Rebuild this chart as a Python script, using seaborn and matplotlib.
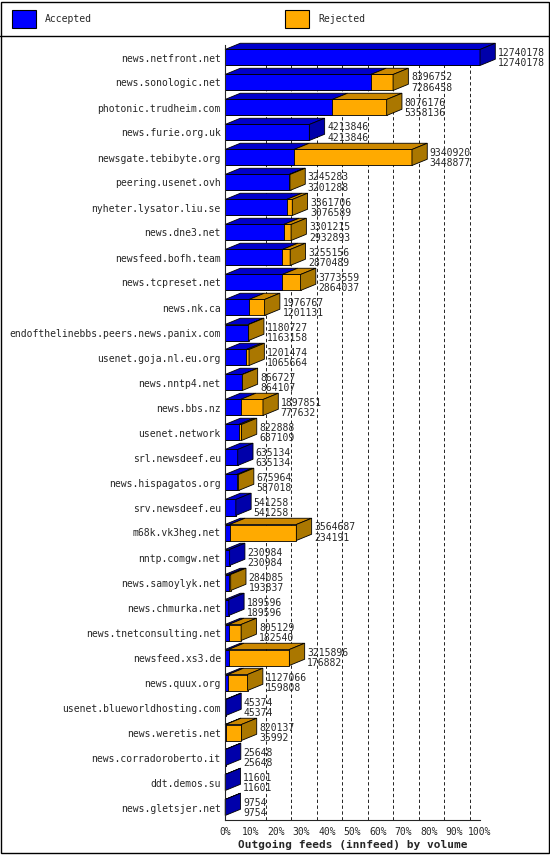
import matplotlib
matplotlib.use("Agg")
import matplotlib.pyplot as plt
import seaborn as sns
import pandas as pd
from matplotlib.patches import Polygon, Rectangle

names = ["news.netfront.net","news.sonologic.net","photonic.trudheim.com","news.furie.org.uk",
"newsgate.tebibyte.org","peering.usenet.ovh","nyheter.lysator.liu.se","news.dne3.net",
"newsfeed.bofh.team","news.tcpreset.net","news.nk.ca","endofthelinebbs.peers.news.panix.com",
"usenet.goja.nl.eu.org","news.nntp4.net","news.bbs.nz","usenet.network","srl.newsdeef.eu",
"news.hispagatos.org","srv.newsdeef.eu","m68k.vk3heg.net","nntp.comgw.net","news.samoylyk.net",
"news.chmurka.net","news.tnetconsulting.net","newsfeed.xs3.de","news.quux.org",
"usenet.blueworldhosting.com","news.weretis.net","news.corradoroberto.it","ddt.demos.su","news.gletsjer.net"]
offered = [12740178,8396752,8076176,4213846,9340920,3245283,3361706,3301215,3255156,3773559,
1976767,1180727,1201474,866727,1897851,822888,635134,675964,541258,3564687,230984,284085,
189596,805129,3215896,1127066,45374,820137,25648,11601,9754]
accepted = [12740178,7286458,5358136,4213846,3448877,3201288,3076589,2932893,2870489,2864037,
1201131,1163158,1065664,864107,777632,687109,635134,587018,541258,234191,230984,193837,
189596,182540,176882,159808,45374,35992,25648,11601,9754]

BLUE = "#0000ff"; ORANGE = "#ffaa00"
mx = max(offered)
df = pd.DataFrame({"name": names, "off": [v / mx for v in offered], "acc": [v / mx for v in accepted]})

sns.set_style("white")
plt.rcParams['font.family'] = ['DejaVu Sans Mono']
fig = plt.figure(figsize=(5.5, 8.55), dpi=100)
ax = fig.add_axes([225/550, 35/855, 255/550, 775/855])
H = 0.64
sns.barplot(data=df, y="name", x="off", orient="h", color=ORANGE, width=H, ax=ax,
            edgecolor="black", linewidth=0.6, saturation=1)
sns.barplot(data=df, y="name", x="acc", orient="h", color=BLUE, width=H, ax=ax,
            edgecolor="black", linewidth=0.6, saturation=1)
dx, dy = 0.06, 0.25
for i, (o, a) in enumerate(zip(df.off, df.acc)):
    top = i - H / 2
    # top faces
    for x0, x1, c in [(0, a, "#0000cc"), (a, o, "#cc8800")]:
        if x1 > x0:
            ax.add_patch(Polygon([(x0, top), (x1, top), (x1 + dx, top - dy), (x0 + dx, top - dy)],
                                 closed=True, fc=c, ec="black", lw=0.6, clip_on=False))
    sc = "#0000aa" if o <= a else "#aa7700"
    ax.add_patch(Polygon([(o, top), (o + dx, top - dy), (o + dx, top + H - dy), (o, top + H)],
                         closed=True, fc=sc, ec="black", lw=0.6, clip_on=False))
    ax.text(o + dx + 0.01, i - 0.2, str(offered[i]), fontsize=7, va="center", clip_on=False)
    ax.text(o + dx + 0.01, i + 0.22, str(accepted[i]), fontsize=7, va="center", clip_on=False)

ax.set_xlim(0, 1)
ax.set_ylim(len(names) - 0.5, -0.5)
ax.set_xticks([i / 10 for i in range(11)])
ax.set_xticklabels([f"{i*10}%" for i in range(11)], fontsize=7)
ax.tick_params(axis="y", labelsize=7, length=0, pad=3)
ax.tick_params(axis="x", length=3, pad=2)
for t in [i / 10 for i in range(1, 11)]:
    ax.axvline(t + dx, color="black", ls=(0, (4, 3)), lw=0.6, zorder=0)
ax.set_ylabel("")
ax.set_xlabel("Outgoing feeds (innfeed) by volume", fontsize=8, fontweight="bold", labelpad=2)
for s in ["top", "right"]:
    ax.spines[s].set_visible(False)
ax.spines["left"].set_linewidth(0.8)
ax.spines["bottom"].set_linewidth(0.8)

# legend header
fig.add_artist(Rectangle((0.002, 0.002), 0.996, 0.996, transform=fig.transFigure, fill=False, ec="black", lw=1))
fig.add_artist(plt.Line2D([0, 1], [1 - 36/855, 1 - 36/855], transform=fig.transFigure, color="black", lw=1))
for x, c, lab in [(12, BLUE, "Accepted"), (285, ORANGE, "Rejected")]:
    fig.add_artist(Rectangle((x/550, 1 - 28/855), 24/550, 18/855, transform=fig.transFigure, fc=c, ec="black", lw=0.8))
    fig.text((x + 33)/550, 1 - 19/855, lab, fontsize=7, va="center")

fig.savefig("out.png", dpi=100)
